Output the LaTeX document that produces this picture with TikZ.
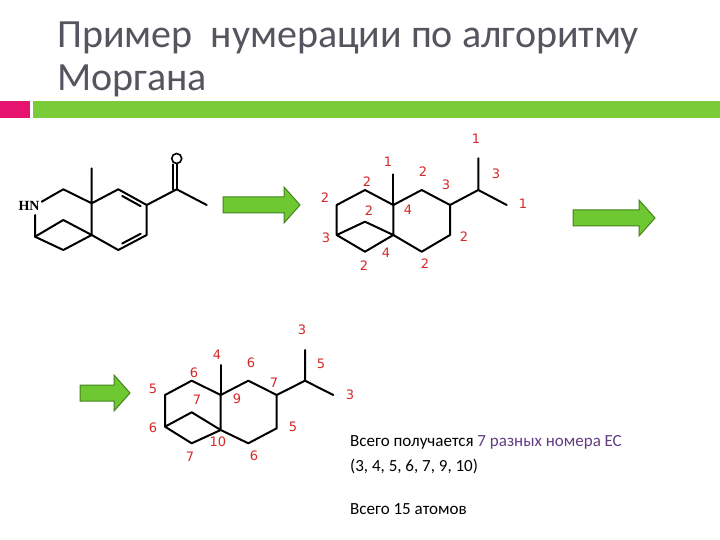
\documentclass[tikz,border=0pt]{standalone}
\usepackage{fontspec}
\setmainfont{Carlito}
\newfontfamily\labfont{DejaVu Sans}
\newfontfamily\hnfont{Liberation Serif}
\usetikzlibrary{arrows.meta,calc}
\definecolor{titlegray}{RGB}{85,85,95}
\definecolor{barpink}{RGB}{230,20,110}
\definecolor{bargreen}{RGB}{122,204,56}
\definecolor{arrfill}{RGB}{110,200,50}
\definecolor{arrdraw}{RGB}{70,130,30}
\definecolor{labred}{RGB}{215,40,40}
\definecolor{purp}{RGB}{100,60,130}
\tikzset{
  bond/.style={line width=2pt, line join=round, line cap=round},
  lab/.style={font=\labfont\fontsize{13}{14}\selectfont, text=labred, inner sep=0pt},
  greenarrow/.style={fill=arrfill, draw=arrdraw, line width=1pt},
  body/.style={anchor=west, inner sep=0pt, font=\fontsize{17}{19}\selectfont}
}
\begin{document}
\begin{tikzpicture}[x=1pt,y=-1pt]
\useasboundingbox (0,0) rectangle (720,540);
\fill[white] (0,0) rectangle (720,540);
% title
\node[anchor=west, text=titlegray, font=\fontsize{40}{44}\selectfont, inner sep=0pt] (t1) at (57,38) {Пример\ \ нумерации по алгоритму};
\node[anchor=west, text=titlegray, font=\fontsize{40}{44}\selectfont, inner sep=0pt] (t2) at (57,81) {Моргана};
\fill[barpink] (0,101) rectangle (30,118);
\fill[bargreen] (33,101) rectangle (720,118);
% arrows
\foreach \x/\y/\w in {223/205/77, 573/218/82, 80/393/50}{
  \draw[greenarrow] (\x,\y-8) -- (\x+\w-16,\y-8) -- (\x+\w-16,\y-18) -- (\x+\w,\y) -- (\x+\w-16,\y+18) -- (\x+\w-16,\y+8) -- (\x,\y+8) -- cycle;
}
% ---- molecule 1
\node[font=\hnfont\bfseries\fontsize{14}{15}\selectfont, inner sep=1pt] (hn) at (29,206) {HN};
\coordinate (a1) at (41.7,201.7);
\coordinate (a2) at (63.3,189.3);
\coordinate (c1) at (91.7,203.3);
\coordinate (m1) at (91.7,168.3);
\coordinate (r1) at (118.3,189.3);
\coordinate (r2) at (146.7,205);
\coordinate (r3) at (146.7,235);
\coordinate (r4) at (118.3,250);
\coordinate (d1) at (91.7,235);
\coordinate (n2) at (35,215);
\coordinate (f1) at (35,236.7);
\coordinate (g1) at (63.3,220);
\coordinate (e1) at (63.3,250);
\coordinate (k1) at (176.7,189.3);
\coordinate (km) at (206.7,205);
\node[circle, draw, line width=1.6pt, minimum size=10pt, inner sep=0pt] (o1) at (176.7,158.5) {};
\draw[bond] (a1) -- (a2) -- (c1) -- (m1);
\draw[bond] (c1) -- (r1) -- (r2) -- (r3) -- (r4) -- (d1) -- (c1);
\draw[bond] ($(r1)!0.2!(r2)+(-1.8,3.5)$) -- ($(r1)!0.85!(r2)+(-1.8,3.5)$);
\draw[bond] ($(r3)!0.15!(r4)+(-1.8,-3.5)$) -- ($(r3)!0.8!(r4)+(-1.8,-3.5)$);
\draw[bond] (n2) -- (f1) -- (g1) -- (d1);
\draw[bond] (f1) -- (e1) -- (d1);
\draw[bond] (r2) -- (k1) -- (km);
\draw[bond] (k1) -- (o1.south);
\draw[bond] ([xshift=-4pt]k1) -- ([xshift=-4pt]o1.south);
% ---- molecule 2
\coordinate (A) at (336.7,205);
\coordinate (B) at (365,190);
\coordinate (C) at (393.3,205);
\coordinate (D) at (393.3,235);
\coordinate (E) at (365,251.7);
\coordinate (F) at (336.7,235);
\coordinate (G) at (365,221.7);
\coordinate (M) at (393.3,174.3);
\coordinate (H) at (421.7,190);
\coordinate (I) at (450,205);
\coordinate (J) at (450,235);
\coordinate (K) at (421.7,251.7);
\coordinate (L) at (478.3,190);
\coordinate (L1) at (478.3,158.3);
\coordinate (L2) at (506.7,205);
\draw[bond] (F) -- (A) -- (B) -- (C) -- (D) -- (E) -- (F) -- (G) -- (D);
\draw[bond] (C) -- (M);
\draw[bond] (C) -- (H) -- (I) -- (J) -- (K) -- (D);
\draw[bond] (I) -- (L) -- (L1);
\draw[bond] (L) -- (L2);
\foreach \p/\t [count=\i] in {{388,162}/1,{423,172}/2,{446,185}/3,{476,139}/1,{496,174}/3,{523,204}/1,{367,182}/2,{325,198}/2,{369,211}/2,{408,210}/4,{326,238}/3,{464,237}/2,{386,253}/4,{364,266}/2,{425,264}/2}
  \node[lab] (lb\i) at (\p) {\t};
% ---- molecule 3
\coordinate (A3) at (165,395);
\coordinate (B3) at (191.7,380.7);
\coordinate (C3) at (220.7,395);
\coordinate (D3) at (220.7,430);
\coordinate (E3) at (191.7,443.3);
\coordinate (F3) at (165,426.7);
\coordinate (G3) at (191.7,412.3);
\coordinate (M3) at (220.7,365);
\coordinate (H3) at (248.3,380.7);
\coordinate (I3) at (276.7,395);
\coordinate (J3) at (276.7,428.3);
\coordinate (K3) at (248.3,443.3);
\coordinate (L3) at (305,380.7);
\coordinate (U3) at (305,350);
\coordinate (R3) at (333.3,395);
\draw[bond] (F3) -- (A3) -- (B3) -- (C3) -- (D3) -- (E3) -- (F3) -- (G3) -- (D3);
\draw[bond] (C3) -- (M3);
\draw[bond] (C3) -- (H3) -- (I3) -- (J3) -- (K3) -- (D3);
\draw[bond] (I3) -- (L3) -- (U3);
\draw[bond] (L3) -- (R3);
\foreach \p/\t [count=\i] in {{302,330}/3,{217,355}/4,{251,363}/6,{321,364}/5,{194,373}/6,{274,383}/7,{153,389}/5,{350,395}/3,{197,400}/7,{237,399}/9,{153,428}/6,{293,427}/5,{218,442}/10,{190,457}/7,{254,456}/6}
  \node[lab] (lc\i) at (\p) {\t};
% text
\node[body] (s1) at (350,442) {Всего получается \textcolor{purp}{7 разных номера ЕС}};
\node[body] (s2) at (350,466) {(3, 4, 5, 6, 7, 9, 10)};
\node[body] (s3) at (350,509) {Всего 15 атомов};
\end{tikzpicture}
\end{document}
